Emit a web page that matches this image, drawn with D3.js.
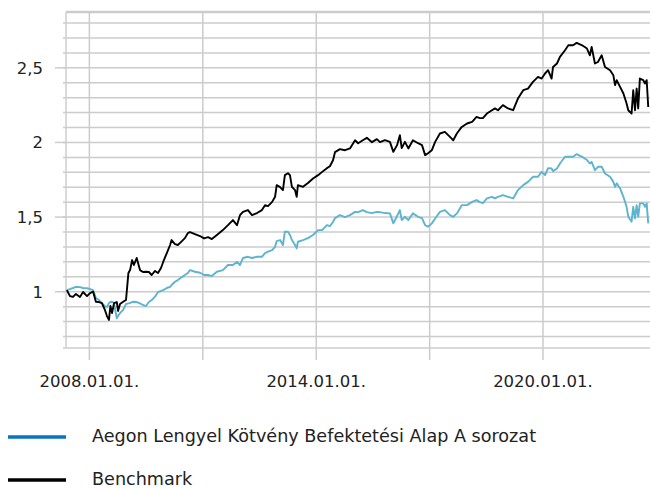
<!DOCTYPE html>
<html>
<head>
<meta charset="utf-8">
<script src="https://cdn.jsdelivr.net/npm/d3@7"></script>
<style>
  body { margin: 0; background: #fff; }
  svg { display: block; font-family: "DejaVu Sans", sans-serif; }
</style>
</head>
<body>
<div class="chart"></div>
<script>
const dates = [
  "2007-05-28","2007-06-27","2007-07-26","2007-08-24","2007-10-02","2007-11-01","2007-12-09",
  "2008-01-07","2008-02-06","2008-03-04","2008-04-03","2008-05-01","2008-05-30","2008-06-19",
  "2008-07-08","2008-07-22","2008-08-07","2008-08-26","2008-09-22","2008-10-04","2008-10-23",
  "2008-11-22","2008-12-20","2009-01-12","2009-01-28","2009-02-17","2009-03-06","2009-04-02",
  "2009-05-04","2009-06-02","2009-07-01","2009-07-29","2009-08-25","2009-09-26","2009-10-25",
  "2009-11-23","2009-12-15","2010-01-18","2010-02-19","2010-03-05","2010-04-07","2010-05-05",
  "2010-06-13","2010-07-12","2010-08-10","2010-08-30","2010-10-17","2010-12-05","2011-01-13",
  "2011-02-21","2011-03-29","2011-05-17","2011-07-14","2011-09-01","2011-10-19","2011-11-27",
  "2011-12-26","2012-01-24","2012-03-12","2012-04-20","2012-06-08","2012-07-25","2012-08-24",
  "2012-09-22","2012-11-01","2012-11-29","2012-12-15","2013-01-17","2013-02-13","2013-03-04",
  "2013-04-03","2013-04-22","2013-05-11","2013-06-10","2013-06-26","2013-07-08","2013-08-26",
  "2013-10-13","2013-12-01","2014-01-19","2014-02-27","2014-04-14","2014-05-13","2014-06-12",
  "2014-07-01","2014-08-18","2014-10-06","2014-11-23","2015-01-11","2015-02-10","2015-03-27",
  "2015-05-05","2015-06-23","2015-08-10","2015-09-09","2015-10-27","2015-12-14","2016-01-16",
  "2016-02-21","2016-03-19","2016-04-06","2016-05-07","2016-06-09","2016-07-23","2016-09-11",
  "2016-10-19","2016-11-18","2016-12-16","2017-01-22","2017-02-23","2017-04-10","2017-05-28",
  "2017-07-16","2017-08-17","2017-09-22","2017-11-07","2017-12-28","2018-02-15","2018-03-30",
  "2018-05-01","2018-05-30","2018-07-08","2018-08-26","2018-09-24","2018-10-23","2018-12-10",
  "2019-01-28","2019-03-19","2019-05-04","2019-06-24","2019-08-09","2019-09-26","2019-11-14",
  "2019-12-19","2020-01-21","2020-02-19","2020-03-24","2020-04-07","2020-05-15","2020-06-13",
  "2020-08-01","2020-09-02","2020-10-17","2020-11-22","2021-01-13","2021-03-01","2021-03-29",
  "2021-04-15","2021-05-17","2021-06-15","2021-07-21","2021-08-22","2021-10-10","2021-11-11",
  "2021-11-27","2021-12-13","2022-01-15","2022-02-16","2022-03-19","2022-04-04","2022-05-06",
  "2022-05-22","2022-06-08","2022-06-24","2022-07-09","2022-07-25","2022-08-27","2022-09-13",
  "2022-09-29","2022-10-14"
]

// Aegon Lengyel Kötvény Befektetési Alap A sorozat
const fund = [
  1.011,1.018,1.025,1.033,1.031,1.025,1.023,
  1.018,1.011,0.958,0.944,0.924,0.904,0.898,
  0.924,0.931,0.933,0.924,0.822,0.837,0.857,
  0.878,0.918,0.922,0.924,0.931,0.933,0.931,
  0.922,0.911,0.904,0.931,0.944,0.967,0.998,
  1.005,1.011,1.025,1.033,1.045,1.067,1.078,
  1.098,1.112,1.125,1.145,1.134,1.127,1.112,
  1.112,1.105,1.134,1.145,1.179,1.179,1.199,
  1.179,1.226,1.234,1.226,1.234,1.234,1.259,
  1.268,1.279,1.301,1.339,1.346,1.313,1.402,
  1.402,1.380,1.346,1.313,1.290,1.335,1.346,
  1.359,1.380,1.413,1.413,1.446,1.440,1.467,
  1.493,1.513,1.500,1.513,1.535,1.533,1.547,
  1.533,1.527,1.535,1.533,1.527,1.525,1.458,
  1.507,1.547,1.480,1.502,1.480,1.525,1.502,
  1.493,1.446,1.435,1.458,1.491,1.535,1.547,
  1.513,1.502,1.525,1.580,1.580,1.602,1.614,
  1.600,1.594,1.625,1.636,1.625,1.636,1.647,
  1.636,1.625,1.681,1.714,1.736,1.770,1.770,
  1.803,1.781,1.828,1.826,1.808,1.826,1.859,
  1.904,1.904,1.904,1.922,1.904,1.882,1.859,
  1.870,1.815,1.837,1.837,1.792,1.770,1.736,
  1.703,1.726,1.692,1.636,1.569,1.502,1.469,
  1.569,1.491,1.580,1.502,1.592,1.592,1.569,
  1.592,1.458
]

// Benchmark
const bench = [
  1.011,0.971,0.965,0.985,0.965,0.998,0.971,
  0.991,1.000,0.933,0.931,0.924,0.878,0.837,
  0.811,0.904,0.857,0.924,0.931,0.871,0.918,
  0.933,0.945,1.125,1.145,1.212,1.179,1.226,
  1.145,1.132,1.134,1.132,1.112,1.139,1.125,
  1.159,1.201,1.259,1.313,1.346,1.319,1.313,
  1.339,1.359,1.393,1.400,1.386,1.373,1.357,
  1.366,1.353,1.380,1.413,1.446,1.480,1.446,
  1.513,1.535,1.547,1.513,1.527,1.547,1.580,
  1.574,1.602,1.636,1.714,1.701,1.681,1.781,
  1.794,1.781,1.703,1.681,1.636,1.714,1.703,
  1.728,1.759,1.781,1.803,1.828,1.841,1.881,
  1.935,1.955,1.948,1.960,2.015,1.995,2.015,
  2.031,2.002,2.022,2.002,2.015,2.004,1.937,
  1.982,2.049,1.962,2.004,1.960,2.015,1.995,
  1.982,1.915,1.928,1.948,2.004,2.060,2.071,
  2.037,2.015,2.062,2.104,2.127,2.138,2.171,
  2.163,2.163,2.194,2.216,2.228,2.216,2.250,
  2.228,2.216,2.294,2.350,2.361,2.406,2.439,
  2.428,2.462,2.484,2.428,2.506,2.529,2.573,
  2.618,2.651,2.651,2.667,2.651,2.629,2.584,
  2.640,2.529,2.539,2.584,2.506,2.484,2.450,
  2.384,2.417,2.372,2.328,2.261,2.216,2.194,
  2.350,2.216,2.361,2.228,2.428,2.417,2.395,
  2.417,2.238
]

const gridDates = ["2008-01-01","2011-01-01","2014-01-01","2017-01-01","2020-01-01"]
const labelDates = ["2008-01-01","2014-01-01","2020-01-01"]
const yMajor = [1, 1.5, 2, 2.5]
const yMinor = [0.7,0.8,0.9,1,1.1,1.2,1.3,1.4,1.5,1.6,1.7,1.8,1.9,2,2.1,2.2,2.3,2.4,2.5,2.6,2.7,2.8]

const seriesNames = ["Aegon Lengyel Kötvény Befektetési Alap A sorozat", "Benchmark"]
const lineColors = ["#5db4cf", "#000000"]
const legendColors = ["#0a74c1", "#000000"]

const W = 650, H = 489
const plotL = 66, plotR = 650, plotT = 12, plotB = 348

const parse = d3.utcParse("%Y-%m-%d")
const fmt = d3.utcFormat("%Y.%m.%d.")
const fmtY = v => String(v).replace(".", ",")

let svg = d3.select(".chart").append("svg")
  .attr("width", W)
  .attr("height", H)

let x = d3.scaleUtc()
  .domain([parse("2007-05-20"), parse("2022-10-31")])
  .range([plotL, plotR])

let y = d3.scaleLinear()
  .domain([0.623, 2.874])
  .range([plotB, plotT])

let grid = svg.append("g").attr("stroke", "#cccccc").attr("stroke-width", 1.5)

// horizontal grid
grid.selectAll(".h")
  .data(yMinor)
  .enter().append("line")
  .attr("x1", 63).attr("x2", plotR)
  .attr("y1", d => y(d)).attr("y2", d => y(d))

grid.append("line").attr("x1", 63).attr("x2", plotR).attr("y1", plotB).attr("y2", plotB)
grid.append("line").attr("x1", plotL).attr("x2", plotR).attr("y1", plotT).attr("y2", plotT).attr("stroke-width", 2.5)

// longer ticks for labelled values
grid.selectAll(".maj")
  .data(yMajor)
  .enter().append("line")
  .attr("x1", 55).attr("x2", plotL)
  .attr("y1", d => y(d)).attr("y2", d => y(d))

// vertical grid
grid.append("line").attr("x1", plotL).attr("x2", plotL).attr("y1", plotT).attr("y2", plotB)
grid.selectAll(".v")
  .data(gridDates.map(parse))
  .enter().append("line")
  .attr("x1", d => x(d)).attr("x2", d => x(d))
  .attr("y1", plotT).attr("y2", plotB + 12)

svg.selectAll(".ylab")
  .data(yMajor)
  .enter().append("text")
  .attr("x", 43)
  .attr("y", d => y(d))
  .attr("dy", "0.36em")
  .attr("text-anchor", "end")
  .attr("font-size", 16.5)
  .attr("fill", "#222")
  .text(fmtY)

svg.selectAll(".xlab")
  .data(labelDates.map(parse))
  .enter().append("text")
  .attr("x", d => x(d))
  .attr("y", 387)
  .attr("text-anchor", "middle")
  .attr("font-size", 16.5)
  .attr("fill", "#222")
  .text(fmt)

let line = d3.line()
  .x(d => x(d[0]))
  .y(d => y(d[1]))

let series = [fund, bench].map(vals => dates.map((d, i) => [parse(d), vals[i]]))

svg.selectAll(".series")
  .data(series)
  .enter().append("path")
  .attr("fill", "none")
  .attr("stroke", (d, i) => lineColors[i])
  .attr("stroke-width", 1.9)
  .attr("stroke-linejoin", "round")
  .attr("d", line)

// legend
let legend = svg.selectAll(".legend")
  .data(seriesNames)
  .enter().append("g")
  .attr("transform", (d, i) => "translate(0," + (437 + i * 43) + ")")

legend.append("line")
  .attr("x1", 8).attr("x2", 66)
  .attr("stroke", (d, i) => legendColors[i])
  .attr("stroke-width", 3.5)

legend.append("text")
  .attr("x", 92)
  .attr("y", 4.5)
  .attr("font-size", 17.6)
  .attr("fill", "#222")
  .text(d => d)
</script>
</body>
</html>
